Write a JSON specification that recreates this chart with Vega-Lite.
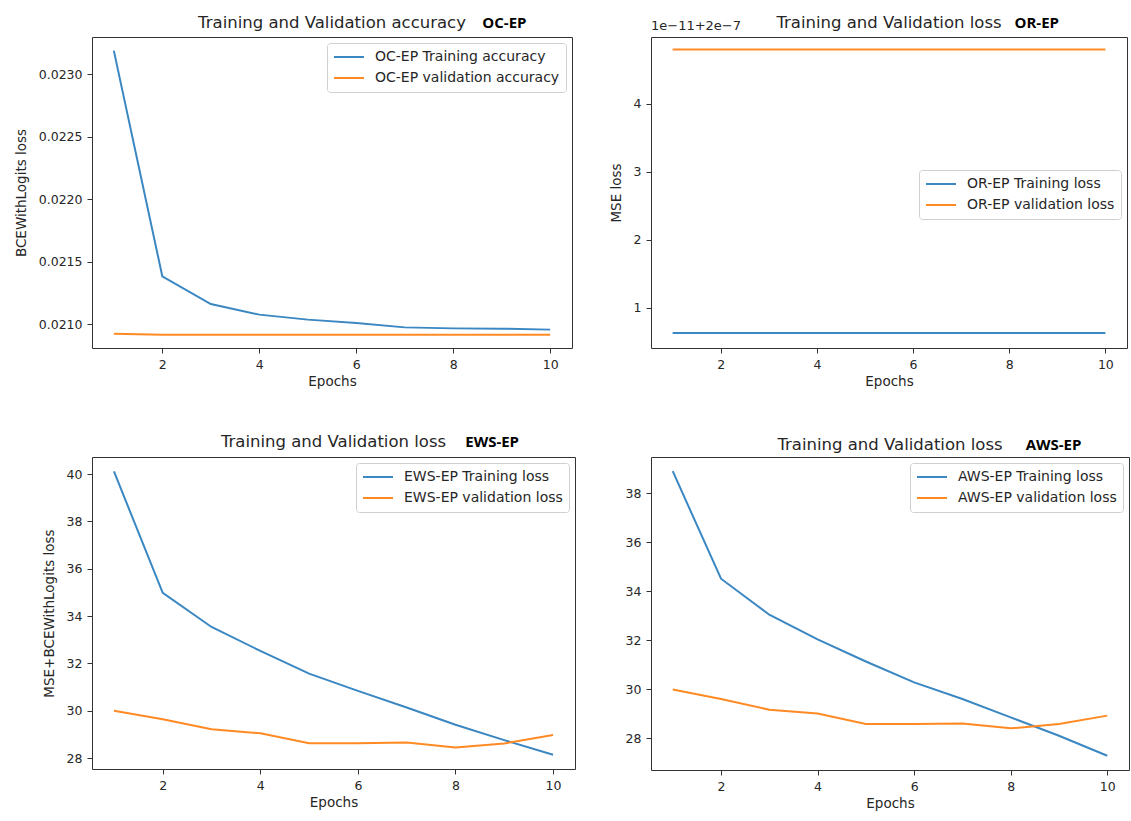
{
  "$schema": "https://vega.github.io/schema/vega-lite/v6.json",
  "background": "white",
  "padding": {"left": 13, "top": 14, "right": 0, "bottom": 0},
  "config": {
    "font": "DejaVu Sans",
    "view": {"stroke": "#333333", "strokeWidth": 1},
    "axis": {"grid": false, "domain": false, "tickColor": "#333333", "tickSize": 5, "labelFontSize": 12.5, "titleFontSize": 13.5, "labelColor": "#262626", "titleColor": "#262626", "titleFontWeight": "normal", "labelPadding": 5, "titlePadding": 4, "labelFont": "DejaVu Sans", "titleFont": "DejaVu Sans"},
    "axisY": {"titlePadding": 10},
    "legend": {"symbolType": "stroke", "symbolStrokeWidth": 2, "symbolSize": 900, "clipHeight": 16, "labelFontSize": 14, "labelLimit": 400, "labelColor": "#262626", "labelFont": "DejaVu Sans", "padding": 6, "strokeColor": "#d0d0d0", "fillColor": "white", "cornerRadius": 3, "rowPadding": 5, "labelOffset": 10, "offset": 6}
  },
  "datasets": {
    "oc": [
      {"epoch": 1, "series": "OC-EP Training accuracy", "value": 0.023187},
      {"epoch": 2, "series": "OC-EP Training accuracy", "value": 0.021382},
      {"epoch": 3, "series": "OC-EP Training accuracy", "value": 0.02116},
      {"epoch": 4, "series": "OC-EP Training accuracy", "value": 0.021075},
      {"epoch": 5, "series": "OC-EP Training accuracy", "value": 0.021035},
      {"epoch": 6, "series": "OC-EP Training accuracy", "value": 0.021008},
      {"epoch": 7, "series": "OC-EP Training accuracy", "value": 0.020973},
      {"epoch": 8, "series": "OC-EP Training accuracy", "value": 0.020965},
      {"epoch": 9, "series": "OC-EP Training accuracy", "value": 0.020963},
      {"epoch": 10, "series": "OC-EP Training accuracy", "value": 0.020955},
      {"epoch": 1, "series": "OC-EP validation accuracy", "value": 0.020922},
      {"epoch": 2, "series": "OC-EP validation accuracy", "value": 0.020914},
      {"epoch": 3, "series": "OC-EP validation accuracy", "value": 0.020914},
      {"epoch": 4, "series": "OC-EP validation accuracy", "value": 0.020914},
      {"epoch": 5, "series": "OC-EP validation accuracy", "value": 0.020914},
      {"epoch": 6, "series": "OC-EP validation accuracy", "value": 0.020914},
      {"epoch": 7, "series": "OC-EP validation accuracy", "value": 0.020914},
      {"epoch": 8, "series": "OC-EP validation accuracy", "value": 0.020914},
      {"epoch": 9, "series": "OC-EP validation accuracy", "value": 0.020914},
      {"epoch": 10, "series": "OC-EP validation accuracy", "value": 0.020914}
    ],
    "or": [
      {"epoch": 1, "series": "OR-EP Training loss", "value": 0.63},
      {"epoch": 2, "series": "OR-EP Training loss", "value": 0.63},
      {"epoch": 3, "series": "OR-EP Training loss", "value": 0.63},
      {"epoch": 4, "series": "OR-EP Training loss", "value": 0.63},
      {"epoch": 5, "series": "OR-EP Training loss", "value": 0.63},
      {"epoch": 6, "series": "OR-EP Training loss", "value": 0.63},
      {"epoch": 7, "series": "OR-EP Training loss", "value": 0.63},
      {"epoch": 8, "series": "OR-EP Training loss", "value": 0.63},
      {"epoch": 9, "series": "OR-EP Training loss", "value": 0.63},
      {"epoch": 10, "series": "OR-EP Training loss", "value": 0.63},
      {"epoch": 1, "series": "OR-EP validation loss", "value": 4.8},
      {"epoch": 2, "series": "OR-EP validation loss", "value": 4.8},
      {"epoch": 3, "series": "OR-EP validation loss", "value": 4.8},
      {"epoch": 4, "series": "OR-EP validation loss", "value": 4.8},
      {"epoch": 5, "series": "OR-EP validation loss", "value": 4.8},
      {"epoch": 6, "series": "OR-EP validation loss", "value": 4.8},
      {"epoch": 7, "series": "OR-EP validation loss", "value": 4.8},
      {"epoch": 8, "series": "OR-EP validation loss", "value": 4.8},
      {"epoch": 9, "series": "OR-EP validation loss", "value": 4.8},
      {"epoch": 10, "series": "OR-EP validation loss", "value": 4.8}
    ],
    "ews": [
      {"epoch": 1, "series": "EWS-EP Training loss", "value": 40.11},
      {"epoch": 2, "series": "EWS-EP Training loss", "value": 34.98},
      {"epoch": 3, "series": "EWS-EP Training loss", "value": 33.54},
      {"epoch": 4, "series": "EWS-EP Training loss", "value": 32.53},
      {"epoch": 5, "series": "EWS-EP Training loss", "value": 31.57},
      {"epoch": 6, "series": "EWS-EP Training loss", "value": 30.84},
      {"epoch": 7, "series": "EWS-EP Training loss", "value": 30.14},
      {"epoch": 8, "series": "EWS-EP Training loss", "value": 29.41},
      {"epoch": 9, "series": "EWS-EP Training loss", "value": 28.76},
      {"epoch": 10, "series": "EWS-EP Training loss", "value": 28.14},
      {"epoch": 1, "series": "EWS-EP validation loss", "value": 30.0},
      {"epoch": 2, "series": "EWS-EP validation loss", "value": 29.64},
      {"epoch": 3, "series": "EWS-EP validation loss", "value": 29.22},
      {"epoch": 4, "series": "EWS-EP validation loss", "value": 29.05},
      {"epoch": 5, "series": "EWS-EP validation loss", "value": 28.63},
      {"epoch": 6, "series": "EWS-EP validation loss", "value": 28.63},
      {"epoch": 7, "series": "EWS-EP validation loss", "value": 28.66},
      {"epoch": 8, "series": "EWS-EP validation loss", "value": 28.45},
      {"epoch": 9, "series": "EWS-EP validation loss", "value": 28.62},
      {"epoch": 10, "series": "EWS-EP validation loss", "value": 28.98}
    ],
    "aws": [
      {"epoch": 1, "series": "AWS-EP Training loss", "value": 38.91},
      {"epoch": 2, "series": "AWS-EP Training loss", "value": 34.52},
      {"epoch": 3, "series": "AWS-EP Training loss", "value": 33.05},
      {"epoch": 4, "series": "AWS-EP Training loss", "value": 32.04},
      {"epoch": 5, "series": "AWS-EP Training loss", "value": 31.14},
      {"epoch": 6, "series": "AWS-EP Training loss", "value": 30.29},
      {"epoch": 7, "series": "AWS-EP Training loss", "value": 29.61},
      {"epoch": 8, "series": "AWS-EP Training loss", "value": 28.86},
      {"epoch": 9, "series": "AWS-EP Training loss", "value": 28.11},
      {"epoch": 10, "series": "AWS-EP Training loss", "value": 27.29},
      {"epoch": 1, "series": "AWS-EP validation loss", "value": 30.0},
      {"epoch": 2, "series": "AWS-EP validation loss", "value": 29.61},
      {"epoch": 3, "series": "AWS-EP validation loss", "value": 29.17},
      {"epoch": 4, "series": "AWS-EP validation loss", "value": 29.02},
      {"epoch": 5, "series": "AWS-EP validation loss", "value": 28.59},
      {"epoch": 6, "series": "AWS-EP validation loss", "value": 28.59},
      {"epoch": 7, "series": "AWS-EP validation loss", "value": 28.61},
      {"epoch": 8, "series": "AWS-EP validation loss", "value": 28.41},
      {"epoch": 9, "series": "AWS-EP validation loss", "value": 28.59},
      {"epoch": 10, "series": "AWS-EP validation loss", "value": 28.93}
    ]
  },
  "columns": 2,
  "spacing": {"row": 44, "column": 32},
  "align": "each",
  "resolve": {"scale": {"color": "independent", "x": "independent", "y": "independent"}, "legend": {"color": "independent"}},
  "concat": [
    {
      "width": 480, "height": 311,
      "layer": [
        {
          "data": {"name": "oc"},
          "mark": {"type": "line", "strokeWidth": 2},
          "encoding": {
            "x": {"field": "epoch", "type": "quantitative", "scale": {"domain": [0.55, 10.45], "nice": false, "zero": false}, "axis": {"values": [2, 4, 6, 8, 10], "title": "Epochs"}},
            "y": {"field": "value", "type": "quantitative", "scale": {"domain": [0.020808, 0.023296], "nice": false, "zero": false}, "axis": {"values": [0.021, 0.0215, 0.022, 0.0225, 0.023], "format": ".4f", "title": "BCEWithLogits loss"}},
            "color": {"field": "series", "type": "nominal", "scale": {"domain": ["OC-EP Training accuracy", "OC-EP validation accuracy"], "range": ["#3a87c2", "#ff8a24"]}, "legend": {"title": null, "orient": "top-right"}}
          }
        },
        {
          "data": {"values": [{}]},
          "mark": {"type": "text", "text": "Training and Validation accuracy", "font": "DejaVu Sans", "fontSize": 16.5, "align": "center", "baseline": "middle", "color": "#262626", "clip": false},
          "encoding": {"x": {"datum": 5.5}, "y": {"datum": 0.023408}}
        },
        {
          "data": {"values": [{}]},
          "mark": {"type": "text", "text": "OC-EP", "font": "Open Sans", "fontWeight": "bold", "fontSize": 15, "align": "left", "baseline": "middle", "color": "black", "clip": false},
          "encoding": {"x": {"datum": 8.6}, "y": {"datum": 0.023408}}
        }
      ]
    },
    {
      "width": 476, "height": 311,
      "layer": [
        {
          "data": {"name": "or"},
          "mark": {"type": "line", "strokeWidth": 2},
          "encoding": {
            "x": {"field": "epoch", "type": "quantitative", "scale": {"domain": [0.55, 10.45], "nice": false, "zero": false}, "axis": {"values": [2, 4, 6, 8, 10], "title": "Epochs"}},
            "y": {"field": "value", "type": "quantitative", "scale": {"domain": [0.41, 4.985], "nice": false, "zero": false}, "axis": {"values": [1, 2, 3, 4], "format": "d", "title": "MSE loss"}},
            "color": {"field": "series", "type": "nominal", "scale": {"domain": ["OR-EP Training loss", "OR-EP validation loss"], "range": ["#3a87c2", "#ff8a24"]}, "legend": {"title": null, "orient": "none", "legendX": 268, "legendY": 133}}
          }
        },
        {
          "data": {"values": [{}]},
          "mark": {"type": "text", "text": "Training and Validation loss", "font": "DejaVu Sans", "fontSize": 16.5, "align": "center", "baseline": "middle", "color": "#262626", "clip": false},
          "encoding": {"x": {"datum": 5.5}, "y": {"datum": 5.19}}
        },
        {
          "data": {"values": [{}]},
          "mark": {"type": "text", "text": "OR-EP", "font": "Open Sans", "fontWeight": "bold", "fontSize": 15, "align": "left", "baseline": "middle", "color": "black", "clip": false},
          "encoding": {"x": {"datum": 8.11}, "y": {"datum": 5.19}}
        },
        {
          "data": {"values": [{}]},
          "mark": {"type": "text", "text": "1e−11+2e−7", "font": "DejaVu Sans", "fontSize": 13, "align": "left", "baseline": "bottom", "color": "#262626", "clip": false},
          "encoding": {"x": {"datum": 0.55}, "y": {"datum": 5.04}}
        }
      ]
    },
    {
      "width": 483, "height": 312,
      "layer": [
        {
          "data": {"name": "ews"},
          "mark": {"type": "line", "strokeWidth": 2},
          "encoding": {
            "x": {"field": "epoch", "type": "quantitative", "scale": {"domain": [0.55, 10.45], "nice": false, "zero": false}, "axis": {"values": [2, 4, 6, 8, 10], "title": "Epochs"}},
            "y": {"field": "value", "type": "quantitative", "scale": {"domain": [27.54, 40.72], "nice": false, "zero": false}, "axis": {"values": [28, 30, 32, 34, 36, 38, 40], "title": "MSE+BCEWithLogits loss"}},
            "color": {"field": "series", "type": "nominal", "scale": {"domain": ["EWS-EP Training loss", "EWS-EP validation loss"], "range": ["#3a87c2", "#ff8a24"]}, "legend": {"title": null, "orient": "top-right"}}
          }
        },
        {
          "data": {"values": [{}]},
          "mark": {"type": "text", "text": "Training and Validation loss", "font": "DejaVu Sans", "fontSize": 16.5, "align": "center", "baseline": "middle", "color": "#262626", "clip": false},
          "encoding": {"x": {"datum": 5.5}, "y": {"datum": 41.35}}
        },
        {
          "data": {"values": [{}]},
          "mark": {"type": "text", "text": "EWS-EP", "font": "Open Sans", "fontWeight": "bold", "fontSize": 15, "align": "left", "baseline": "middle", "color": "black", "clip": false},
          "encoding": {"x": {"datum": 8.2}, "y": {"datum": 41.35}}
        }
      ]
    },
    {
      "width": 478, "height": 313,
      "layer": [
        {
          "data": {"name": "aws"},
          "mark": {"type": "line", "strokeWidth": 2},
          "encoding": {
            "x": {"field": "epoch", "type": "quantitative", "scale": {"domain": [0.55, 10.45], "nice": false, "zero": false}, "axis": {"values": [2, 4, 6, 8, 10], "title": "Epochs"}},
            "y": {"field": "value", "type": "quantitative", "scale": {"domain": [26.71, 39.49], "nice": false, "zero": false}, "axis": {"values": [28, 30, 32, 34, 36, 38], "title": null}},
            "color": {"field": "series", "type": "nominal", "scale": {"domain": ["AWS-EP Training loss", "AWS-EP validation loss"], "range": ["#3a87c2", "#ff8a24"]}, "legend": {"title": null, "orient": "top-right"}}
          }
        },
        {
          "data": {"values": [{}]},
          "mark": {"type": "text", "text": "Training and Validation loss", "font": "DejaVu Sans", "fontSize": 16.5, "align": "center", "baseline": "middle", "color": "#262626", "clip": false},
          "encoding": {"x": {"datum": 5.5}, "y": {"datum": 39.99}}
        },
        {
          "data": {"values": [{}]},
          "mark": {"type": "text", "text": "AWS-EP", "font": "Open Sans", "fontWeight": "bold", "fontSize": 15, "align": "left", "baseline": "middle", "color": "black", "clip": false},
          "encoding": {"x": {"datum": 8.31}, "y": {"datum": 39.99}}
        }
      ]
    }
  ]
}
